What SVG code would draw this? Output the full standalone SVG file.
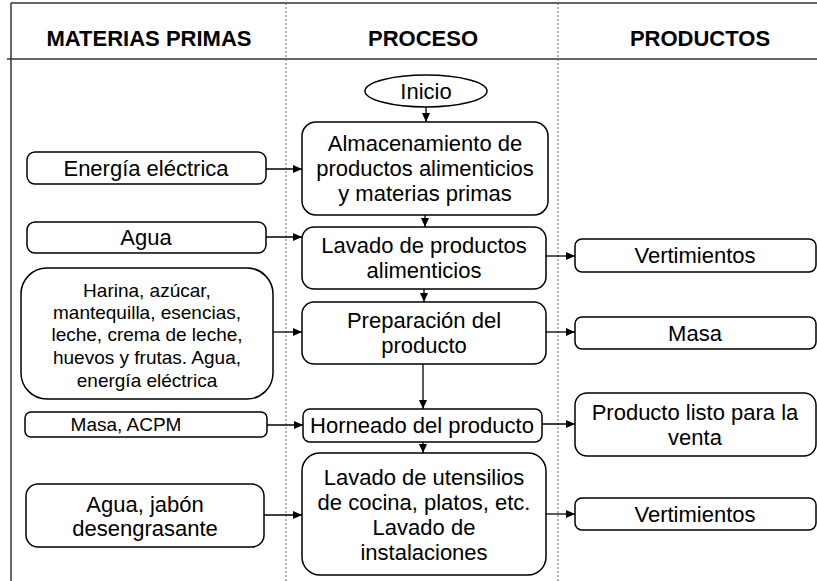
<svg xmlns="http://www.w3.org/2000/svg" width="817" height="581" viewBox="0 0 817 581">
<defs>
<marker id="ah" markerUnits="userSpaceOnUse" markerWidth="10" markerHeight="8" refX="9" refY="4" orient="auto">
<path d="M0,0 L9,4 L0,8 Z" fill="#000"/>
</marker>
<style>
.box{fill:#fff;stroke:#000;stroke-width:1.5}
.t{font-family:"Liberation Sans",Arial,sans-serif;font-size:22px;fill:#000;text-anchor:middle}
.s{font-size:19px}
.h{font-family:"Liberation Sans",Arial,sans-serif;font-size:22px;font-weight:bold;fill:#000;text-anchor:middle}
.c{stroke:#000;stroke-width:1.3;fill:none;marker-end:url(#ah)}
.grid{stroke:#333;stroke-width:1.5;fill:none}
.dash{stroke:#666;stroke-width:1;stroke-dasharray:2,2;fill:none}
</style>
</defs>
<rect width="817" height="581" fill="#fff"/>
<g id="table">
<line class="grid" x1="11" y1="3" x2="817" y2="3"/>
<line class="grid" x1="7" y1="59" x2="817" y2="59"/>
<line class="grid" x1="11" y1="3" x2="11" y2="581"/>
<line class="dash" x1="286" y1="3" x2="286" y2="581"/>
<line class="dash" x1="558" y1="3" x2="558" y2="581"/>
<text class="h" x="149" y="46">MATERIAS PRIMAS</text>
<text class="h" x="423" y="46">PROCESO</text>
<text class="h" x="700" y="46">PRODUCTOS</text>
</g>
<g id="connectors">
<line class="c" x1="426" y1="107" x2="426" y2="122"/>
<line class="c" x1="425" y1="215" x2="425" y2="227"/>
<line class="c" x1="424" y1="289" x2="424" y2="302"/>
<line class="c" x1="423" y1="364" x2="423" y2="409"/>
<line class="c" x1="423" y1="442" x2="423" y2="453"/>
<line class="c" x1="266" y1="169" x2="302" y2="169"/>
<line class="c" x1="266" y1="237" x2="302" y2="237"/>
<line class="c" x1="273" y1="332" x2="302" y2="332"/>
<line class="c" x1="267" y1="425" x2="303" y2="425"/>
<line class="c" x1="264" y1="515" x2="302" y2="515"/>
<line class="c" x1="546" y1="256" x2="575" y2="256"/>
<line class="c" x1="546" y1="332" x2="575" y2="332"/>
<line class="c" x1="542" y1="424" x2="575" y2="424"/>
<line class="c" x1="546" y1="514" x2="575" y2="514"/>
</g>
<g id="inicio">
<ellipse class="box" cx="426" cy="91" rx="61" ry="16"/>
<text class="t" x="426" y="99">Inicio</text>
</g>
<g id="almacenamiento">
<rect class="box" x="302" y="122" width="246" height="93" rx="14"/>
<text class="t" x="425" y="151">Almacenamiento de</text>
<text class="t" x="425" y="176">productos alimenticios</text>
<text class="t" x="425" y="201">y materias primas</text>
</g>
<g id="lavado-productos">
<rect class="box" x="302" y="227" width="244" height="62" rx="12"/>
<text class="t" x="424" y="253">Lavado de productos</text>
<text class="t" x="424" y="278">alimenticios</text>
</g>
<g id="preparacion">
<rect class="box" x="302" y="302" width="244" height="62" rx="12"/>
<text class="t" x="424" y="328">Preparación del</text>
<text class="t" x="424" y="353">producto</text>
</g>
<g id="horneado">
<rect class="box" x="303" y="409" width="239" height="33" rx="7"/>
<text class="t" x="422" y="433">Horneado del producto</text>
</g>
<g id="lavado-utensilios">
<rect class="box" x="302" y="453" width="244" height="122" rx="18"/>
<text class="t" x="424" y="485">Lavado de utensilios</text>
<text class="t" x="424" y="510">de cocina, platos, etc.</text>
<text class="t" x="424" y="535">Lavado de</text>
<text class="t" x="424" y="560">instalaciones</text>
</g>
<g id="energia">
<rect class="box" x="27" y="152" width="239" height="32" rx="8"/>
<text class="t" x="146" y="176">Energía eléctrica</text>
</g>
<g id="agua">
<rect class="box" x="27" y="222" width="239" height="31" rx="8"/>
<text class="t" x="146" y="245">Agua</text>
</g>
<g id="harina">
<rect class="box" x="21" y="268" width="252" height="131" rx="26"/>
<text class="t s" x="147" y="297">Harina, azúcar,</text>
<text class="t s" x="147" y="319">mantequilla, esencias,</text>
<text class="t s" x="147" y="341">leche, crema de leche,</text>
<text class="t s" x="147" y="364">huevos y frutas. Agua,</text>
<text class="t s" x="147" y="387">energía eléctrica</text>
</g>
<g id="masa-acpm">
<rect class="box" x="25" y="412" width="242" height="25" rx="6"/>
<text class="t s" x="126" y="431">Masa, ACPM</text>
</g>
<g id="agua-jabon">
<rect class="box" x="26" y="484" width="238" height="63" rx="12"/>
<text class="t" x="145" y="512">Agua, jabón</text>
<text class="t" x="145" y="536">desengrasante</text>
</g>
<g id="vertimientos1">
<rect class="box" x="575" y="239" width="241" height="33" rx="7"/>
<text class="t" x="695" y="263">Vertimientos</text>
</g>
<g id="masa">
<rect class="box" x="575" y="317" width="241" height="32" rx="7"/>
<text class="t" x="695" y="341">Masa</text>
</g>
<g id="producto-listo">
<rect class="box" x="575" y="393" width="241" height="63" rx="12"/>
<text class="t" x="695" y="420">Producto listo para la</text>
<text class="t" x="695" y="445">venta</text>
</g>
<g id="vertimientos2">
<rect class="box" x="575" y="498" width="241" height="32" rx="7"/>
<text class="t" x="695" y="522">Vertimientos</text>
</g>
</svg>
